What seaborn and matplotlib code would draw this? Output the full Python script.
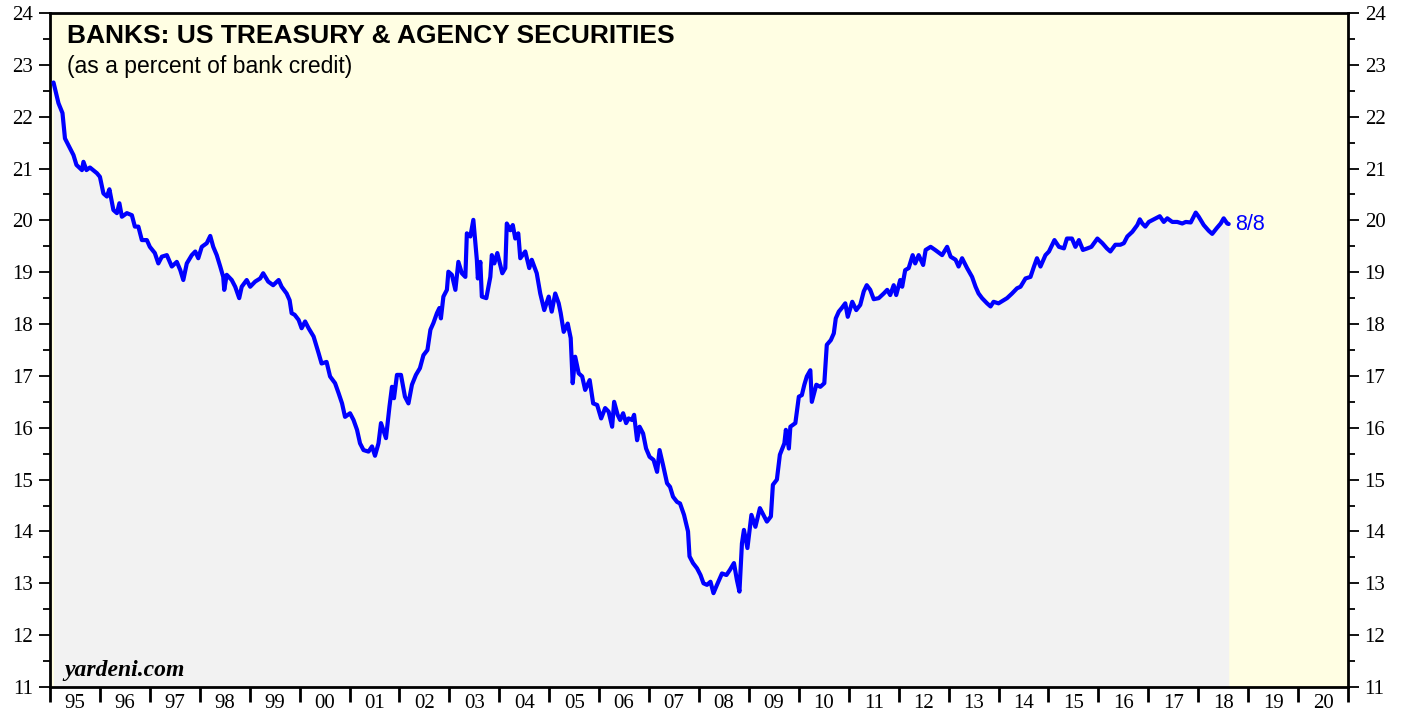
import numpy as np
import pandas as pd
import matplotlib
matplotlib.use("Agg")
import matplotlib.pyplot as plt
import seaborn as sns

# decimal year, percent of bank credit
years = [
    1995.07, 1995.17, 1995.25, 1995.30, 1995.40, 1995.47, 1995.53, 1995.64, 1995.67, 1995.73,
    1995.80, 1995.94, 1996.00, 1996.07, 1996.14, 1996.19, 1996.27, 1996.34, 1996.39, 1996.44,
    1996.54, 1996.64, 1996.70, 1996.77, 1996.84, 1996.94, 1997.00, 1997.10, 1997.17, 1997.24,
    1997.34, 1997.44, 1997.54, 1997.61, 1997.67, 1997.74, 1997.84, 1997.91, 1997.97, 1998.04,
    1998.14, 1998.21, 1998.27, 1998.34, 1998.41, 1998.47, 1998.49, 1998.54, 1998.64, 1998.71,
    1998.79, 1998.84, 1998.94, 1999.01, 1999.11, 1999.21, 1999.27, 1999.37, 1999.47, 1999.58,
    1999.64, 1999.74, 1999.80, 1999.84, 1999.90, 1999.98, 2000.04, 2000.11, 2000.18, 2000.28,
    2000.38, 2000.44, 2000.54, 2000.61, 2000.71, 2000.78, 2000.85, 2000.91, 2001.01, 2001.08,
    2001.15, 2001.21, 2001.28, 2001.38, 2001.45, 2001.51, 2001.58, 2001.63, 2001.73, 2001.80,
    2001.85, 2001.89, 2001.95, 2002.03, 2002.11, 2002.18, 2002.25, 2002.33, 2002.41, 2002.48,
    2002.56, 2002.62, 2002.68, 2002.75, 2002.80, 2002.83, 2002.88, 2002.95, 2002.98, 2003.05,
    2003.12, 2003.18, 2003.25, 2003.32, 2003.35, 2003.42, 2003.48, 2003.55, 2003.57, 2003.62,
    2003.65, 2003.74, 2003.82, 2003.85, 2003.90, 2003.96, 2004.06, 2004.12, 2004.15, 2004.22,
    2004.27, 2004.32, 2004.38, 2004.42, 2004.52, 2004.60, 2004.65, 2004.75, 2004.82, 2004.90,
    2004.99, 2005.05, 2005.12, 2005.19, 2005.23, 2005.29, 2005.37, 2005.43, 2005.47, 2005.52,
    2005.59, 2005.66, 2005.72, 2005.81, 2005.88, 2005.96, 2006.04, 2006.12, 2006.19, 2006.26,
    2006.30, 2006.37, 2006.42, 2006.48, 2006.54, 2006.59, 2006.66, 2006.70, 2006.76, 2006.81,
    2006.88, 2006.94, 2007.01, 2007.09, 2007.16, 2007.21, 2007.28, 2007.36, 2007.42, 2007.48,
    2007.56, 2007.62, 2007.70, 2007.78, 2007.81, 2007.88, 2007.96, 2008.03, 2008.09, 2008.16,
    2008.23, 2008.29, 2008.36, 2008.46, 2008.55, 2008.62, 2008.70, 2008.76, 2008.81, 2008.86,
    2008.90, 2008.97, 2009.05, 2009.13, 2009.22, 2009.29, 2009.36, 2009.44, 2009.48, 2009.56,
    2009.62, 2009.71, 2009.74, 2009.80, 2009.83, 2009.93, 2010.00, 2010.06, 2010.11, 2010.16,
    2010.23, 2010.26, 2010.35, 2010.43, 2010.51, 2010.56, 2010.64, 2010.70, 2010.74, 2010.80,
    2010.86, 2010.93, 2010.98, 2011.07, 2011.15, 2011.23, 2011.30, 2011.36, 2011.43, 2011.50,
    2011.60, 2011.70, 2011.77, 2011.83, 2011.90, 2011.95, 2012.03, 2012.07, 2012.13, 2012.20,
    2012.28, 2012.33, 2012.40, 2012.49, 2012.54, 2012.64, 2012.73, 2012.87, 2012.97, 2013.04,
    2013.14, 2013.20, 2013.27, 2013.37, 2013.47, 2013.54, 2013.60, 2013.67, 2013.77, 2013.84,
    2013.90, 2014.00, 2014.10, 2014.17, 2014.27, 2014.37, 2014.44, 2014.54, 2014.64, 2014.71,
    2014.77, 2014.84, 2014.94, 2015.01, 2015.12, 2015.21, 2015.31, 2015.37, 2015.47, 2015.54,
    2015.61, 2015.69, 2015.78, 2015.86, 2015.98, 2016.08, 2016.17, 2016.24, 2016.34, 2016.44,
    2016.51, 2016.58, 2016.68, 2016.78, 2016.83, 2016.88, 2016.94, 2017.01, 2017.11, 2017.23,
    2017.31, 2017.38, 2017.48, 2017.58, 2017.68, 2017.75, 2017.85, 2017.95, 2018.01, 2018.11,
    2018.21, 2018.28, 2018.37, 2018.45, 2018.51, 2018.58, 2018.61,
]
values = [
    22.66, 22.26, 22.07, 21.58, 21.39, 21.26, 21.07, 20.97, 21.13, 20.97,
    21.02, 20.91, 20.84, 20.52, 20.46, 20.60, 20.20, 20.14, 20.33, 20.07,
    20.14, 20.10, 19.88, 19.88, 19.62, 19.62, 19.49, 19.37, 19.17, 19.30,
    19.33, 19.11, 19.20, 19.04, 18.85, 19.17, 19.33, 19.40, 19.27, 19.49,
    19.56, 19.70, 19.49, 19.33, 19.11, 18.91, 18.66, 18.95, 18.85, 18.72,
    18.50, 18.72, 18.85, 18.72, 18.82, 18.88, 18.98, 18.82, 18.75, 18.85,
    18.72, 18.59, 18.46, 18.21, 18.18, 18.08, 17.92, 18.05, 17.92, 17.76,
    17.44, 17.24, 17.27, 16.99, 16.86, 16.67, 16.47, 16.21, 16.28, 16.15,
    15.96, 15.70, 15.57, 15.54, 15.64, 15.46, 15.70, 16.09, 15.80, 16.41,
    16.79, 16.57, 17.02, 17.02, 16.60, 16.47, 16.83, 17.02, 17.15, 17.40,
    17.50, 17.89, 18.02, 18.21, 18.31, 18.11, 18.53, 18.66, 19.01, 18.95,
    18.66, 19.20, 18.98, 18.91, 19.75, 19.69, 20.01, 19.24, 18.88, 19.20,
    18.53, 18.50, 18.91, 19.33, 19.17, 19.37, 18.98, 19.08, 19.94, 19.81,
    19.91, 19.65, 19.75, 19.27, 19.40, 19.08, 19.24, 18.98, 18.59, 18.27,
    18.53, 18.24, 18.59, 18.40, 18.21, 17.85, 18.01, 17.73, 16.86, 17.37,
    17.05, 16.99, 16.73, 16.92, 16.47, 16.44, 16.18, 16.38, 16.31, 16.02,
    16.50, 16.25, 16.15, 16.28, 16.09, 16.18, 16.15, 16.25, 15.76, 16.02,
    15.89, 15.60, 15.44, 15.38, 15.15, 15.57, 15.28, 14.93, 14.86, 14.67,
    14.57, 14.54, 14.32, 14.00, 13.52, 13.39, 13.29, 13.16, 13.00, 12.97,
    13.03, 12.81, 12.97, 13.19, 13.16, 13.26, 13.39, 13.06, 12.84, 13.77,
    14.03, 13.68, 14.32, 14.09, 14.45, 14.32, 14.19, 14.29, 14.90, 15.00,
    15.48, 15.70, 15.96, 15.60, 16.02, 16.09, 16.60, 16.63, 16.83, 16.99,
    17.11, 16.50, 16.83, 16.79, 16.86, 17.60, 17.69, 17.82, 18.11, 18.24,
    18.31, 18.40, 18.14, 18.43, 18.27, 18.37, 18.63, 18.75, 18.66, 18.48,
    18.50, 18.59, 18.66, 18.56, 18.75, 18.56, 18.85, 18.72, 19.04, 19.08,
    19.33, 19.17, 19.33, 19.14, 19.43, 19.49, 19.43, 19.33, 19.49, 19.30,
    19.24, 19.11, 19.27, 19.08, 18.91, 18.72, 18.59, 18.50, 18.40, 18.34,
    18.43, 18.40, 18.46, 18.50, 18.59, 18.69, 18.72, 18.88, 18.91, 19.11,
    19.27, 19.11, 19.33, 19.40, 19.62, 19.49, 19.46, 19.65, 19.65, 19.49,
    19.62, 19.43, 19.46, 19.49, 19.65, 19.56, 19.46, 19.40, 19.53, 19.53,
    19.56, 19.69, 19.78, 19.91, 20.02, 19.94, 19.88, 19.97, 20.02, 20.08,
    19.97, 20.04, 19.97, 19.97, 19.94, 19.97, 19.96, 20.15, 20.07, 19.91,
    19.80, 19.74, 19.85, 19.94, 20.04, 19.94, 19.93,
]
year_labels = ["95", "96", "97", "98", "99", "00", "01", "02", "03", "04", "05", "06", "07",
               "08", "09", "10", "11", "12", "13", "14", "15", "16", "17", "18", "19", "20"]
last_label = "8/8"

df = pd.DataFrame({"year": years, "pct": values})

sns.set_style("ticks")
plt.rcParams["font.family"] = ["Liberation Serif", "DejaVu Serif"]
plt.rcParams["text.color"] = "black"
plt.rcParams["xtick.color"] = "black"
plt.rcParams["ytick.color"] = "black"
plt.rcParams["xtick.labelcolor"] = "black"
plt.rcParams["ytick.labelcolor"] = "black"

fig = plt.figure(figsize=(14.07, 7.17), dpi=100)
ax = fig.add_axes([50 / 1407, 30 / 717, 1298 / 1407, 674 / 717])
ax.set_facecolor("#FFFEE3")

ymin, ymax = 11, 24
ax.fill_between(df["year"], ymin, df["pct"], color="#F2F2F2", linewidth=0, zorder=1)
sns.lineplot(data=df, x="year", y="pct", ax=ax, color="#0000FF", linewidth=3.0, zorder=3)

ax.set_xlim(1995, 2021)
ax.set_ylim(ymin, ymax)
ax.set_xlabel("")
ax.set_ylabel("")

# x axis: ticks at year boundaries, labels centred in each year
ax.set_xticks(np.arange(1995, 2022))
ax.set_xticklabels([])
ax.set_xticks(np.arange(1995, 2021) + 0.5, minor=True)
ax.set_xticklabels(year_labels, minor=True, fontsize=15)
ax.tick_params(axis="x", which="major", direction="out", length=11, width=2, color="black")
ax.tick_params(axis="x", which="minor", length=0, pad=5)

# y axis: both sides
ax.set_yticks(np.arange(11, 25))
ax.set_yticks(np.arange(11.5, 24, 1), minor=True)
ax.tick_params(axis="y", which="major", direction="out", length=8, width=1.3,
               left=True, right=True, labelleft=True, labelright=True, labelsize=15, pad=4)
ax.tick_params(axis="y", which="minor", direction="out", length=5, width=1.3,
               left=True, right=True)

for side in ["left", "right", "top", "bottom"]:
    ax.spines[side].set_linewidth(2)
    ax.spines[side].set_color("black")
    ax.spines[side].set_visible(True)

ax.text(0.013, 0.983, "BANKS: US TREASURY & AGENCY SECURITIES", transform=ax.transAxes,
        ha="left", va="top", fontsize=19, fontweight="bold", family="Liberation Sans")
ax.text(0.013, 0.938, "(as a percent of bank credit)", transform=ax.transAxes,
        ha="left", va="top", fontsize=16.5, family="Liberation Sans")
ax.text(0.011, 0.009, "yardeni.com", transform=ax.transAxes, ha="left", va="bottom",
        fontsize=17, fontweight="bold", fontstyle="italic", family="Liberation Serif")
ax.text(years[-1] + 0.13, values[-1], last_label, color="#0000FF", ha="left", va="center",
        fontsize=15.5, family="Liberation Sans")

fig.savefig("out.png", dpi=100)
